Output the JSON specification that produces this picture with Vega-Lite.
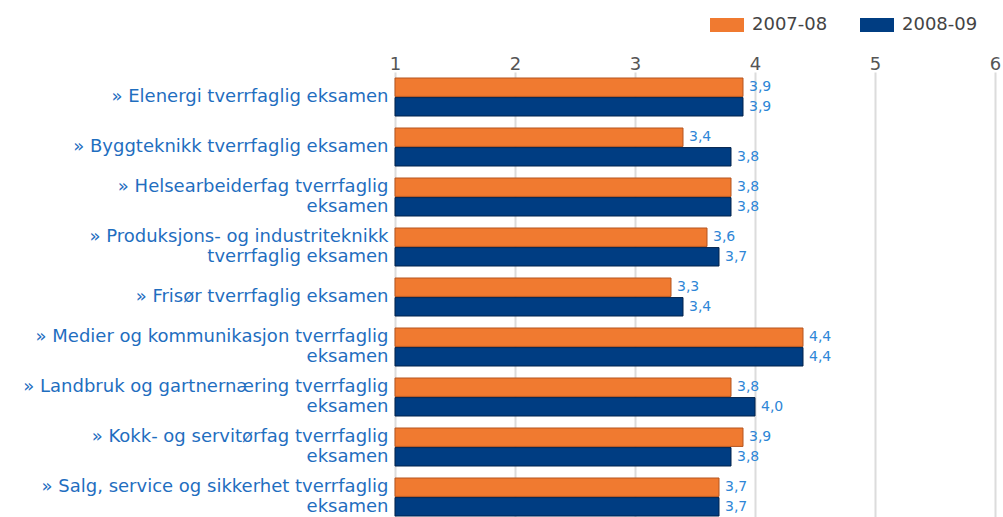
{
  "$schema": "https://vega.github.io/schema/vega-lite/v6.json",
  "autosize": {"type": "none"},
  "padding": {"left": 395, "top": 72, "right": 8, "bottom": 0},
  "width": 600,
  "height": 450,
  "background": "white",
  "data": {
    "values": [
      {"cat": "» Elenergi tverrfaglig eksamen", "year": "2007-08", "v": 3.9},
      {"cat": "» Elenergi tverrfaglig eksamen", "year": "2008-09", "v": 3.9},
      {"cat": "» Byggteknikk tverrfaglig eksamen", "year": "2007-08", "v": 3.4},
      {"cat": "» Byggteknikk tverrfaglig eksamen", "year": "2008-09", "v": 3.8},
      {"cat": "» Helsearbeiderfag tverrfaglig|eksamen", "year": "2007-08", "v": 3.8},
      {"cat": "» Helsearbeiderfag tverrfaglig|eksamen", "year": "2008-09", "v": 3.8},
      {"cat": "» Produksjons- og industriteknikk|tverrfaglig eksamen", "year": "2007-08", "v": 3.6},
      {"cat": "» Produksjons- og industriteknikk|tverrfaglig eksamen", "year": "2008-09", "v": 3.7},
      {"cat": "» Frisør tverrfaglig eksamen", "year": "2007-08", "v": 3.3},
      {"cat": "» Frisør tverrfaglig eksamen", "year": "2008-09", "v": 3.4},
      {"cat": "» Medier og kommunikasjon tverrfaglig|eksamen", "year": "2007-08", "v": 4.4},
      {"cat": "» Medier og kommunikasjon tverrfaglig|eksamen", "year": "2008-09", "v": 4.4},
      {"cat": "» Landbruk og gartnernæring tverrfaglig|eksamen", "year": "2007-08", "v": 3.8},
      {"cat": "» Landbruk og gartnernæring tverrfaglig|eksamen", "year": "2008-09", "v": 4.0},
      {"cat": "» Kokk- og servitørfag tverrfaglig|eksamen", "year": "2007-08", "v": 3.9},
      {"cat": "» Kokk- og servitørfag tverrfaglig|eksamen", "year": "2008-09", "v": 3.8},
      {"cat": "» Salg, service og sikkerhet tverrfaglig|eksamen", "year": "2007-08", "v": 3.7},
      {"cat": "» Salg, service og sikkerhet tverrfaglig|eksamen", "year": "2008-09", "v": 3.7}
    ]
  },
  "encoding": {
    "y": {
      "field": "cat",
      "type": "nominal",
      "sort": null,
      "title": null,
      "scale": {"paddingInner": 0.24, "paddingOuter": 0.12},
      "axis": {
        "domain": false,
        "ticks": false,
        "labelExpr": "split(datum.label, '|')",
        "labelFont": "DejaVu Sans",
        "labelFontSize": 18,
        "labelColor": "#1f6ebf",
        "labelLineHeight": 20,
        "labelLimit": 400,
        "labelPadding": 7,
        "labelOffset": {
          "condition": {"test": "indexof(datum.value, '|') >= 0", "value": -10},
          "value": 0
        }
      }
    },
    "yOffset": {
      "field": "year",
      "type": "nominal",
      "sort": ["2007-08", "2008-09"],
      "scale": {"paddingInner": 0.06}
    },
    "x": {
      "field": "v",
      "type": "quantitative",
      "title": null,
      "scale": {"domain": [1, 6], "nice": false, "zero": false},
      "axis": {
        "orient": "top",
        "values": [1, 2, 3, 4, 5, 6],
        "format": "d",
        "domain": false,
        "ticks": false,
        "grid": true,
        "gridColor": "#dcdcdc",
        "gridWidth": 2,
        "labelFlush": false,
        "labelFont": "DejaVu Sans",
        "labelFontSize": 18,
        "labelColor": "#555555",
        "labelPadding": -1
      }
    }
  },
  "layer": [
    {
      "mark": {"type": "bar", "strokeWidth": 1},
      "encoding": {
        "x2": {"datum": 1},
        "fill": {
          "field": "year",
          "type": "nominal",
          "scale": {"domain": ["2007-08", "2008-09"], "range": ["#f07a30", "#003d82"]},
          "legend": {
            "title": null,
            "orient": "none",
            "direction": "horizontal",
            "legendX": 315,
            "legendY": -64,
            "symbolType": "M-1,-0.41L1,-0.41L1,0.41L-1,0.41Z",
            "symbolSize": 1156,
            "symbolStrokeWidth": 0,
            "labelFont": "DejaVu Sans",
            "labelFontSize": 18,
            "labelColor": "#444444",
            "labelOffset": 8,
            "columnPadding": 32
          }
        },
        "stroke": {
          "field": "year",
          "type": "nominal",
          "scale": {"domain": ["2007-08", "2008-09"], "range": ["#b5541e", "#00234d"]},
          "legend": null
        }
      }
    },
    {
      "mark": {
        "type": "text",
        "align": "left",
        "baseline": "middle",
        "dx": 6,
        "font": "DejaVu Sans",
        "fontSize": 14,
        "color": "#2e86d6"
      },
      "encoding": {
        "text": {"field": "v", "type": "quantitative", "format": ".1f"}
      }
    }
  ],
  "config": {
    "view": {"stroke": null},
    "locale": {
      "number": {"decimal": ",", "thousands": " ", "grouping": [3], "currency": ["", " kr"]}
    }
  }
}
